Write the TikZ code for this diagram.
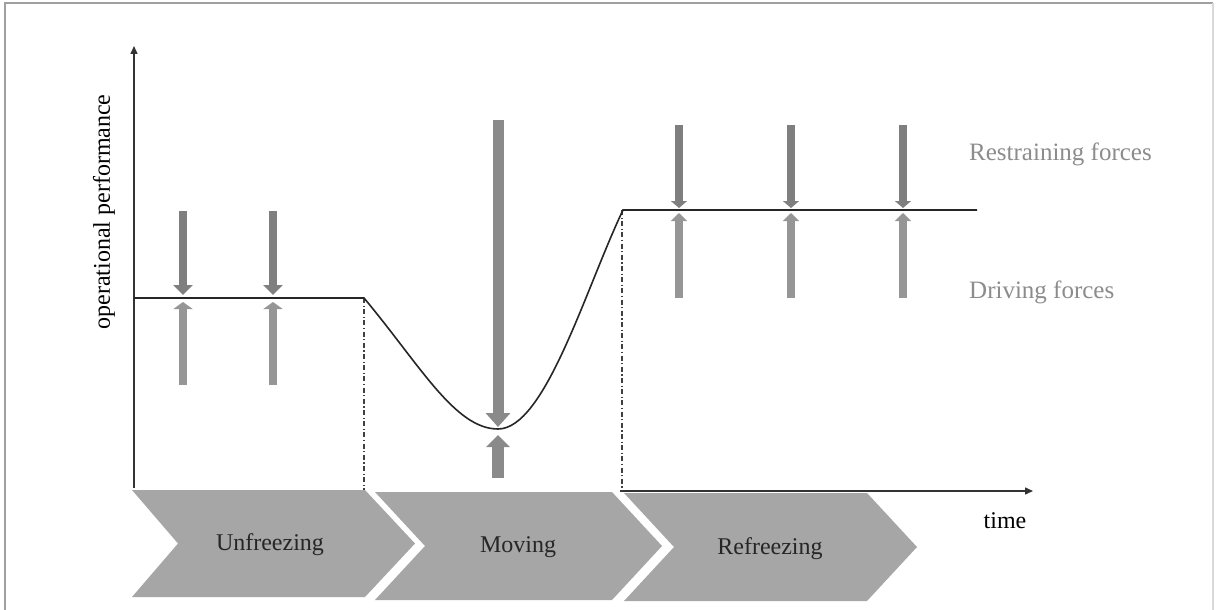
\documentclass[tikz,border=0pt]{standalone}
\usepackage{fontspec}
\setmainfont{Liberation Serif}
\usetikzlibrary{arrows.meta}
\definecolor{chev}{HTML}{A6A6A6}
\definecolor{darkf}{HTML}{7F7F7F}
\definecolor{lightf}{HTML}{969696}
\definecolor{midf}{HTML}{8A8A8A}
\definecolor{lbl}{HTML}{8C8C8C}
\definecolor{frame}{HTML}{A0A0A0}
\begin{document}
\begin{tikzpicture}[x=1pt,y=-1pt,
  chevron/.style={fill=chev,draw=none},
  phase/.style={font=\fontsize{24}{28}\selectfont,text=black!85,inner sep=0pt},
  forcelbl/.style={font=\fontsize{25}{30}\selectfont,text=lbl,anchor=west,inner sep=0pt},
  curveline/.style={line width=1.6pt,black!85},
  axisline/.style={line width=1.5pt,black!80,-{Triangle[width=7pt,length=8pt]}},
  guide/.style={line width=1.2pt,black!75,dash pattern=on 5pt off 2.5pt on 1.2pt off 2.5pt},
  downsmall/.style={darkf,line width=8pt,-{Triangle[width=19pt,length=10pt]}},
  upsmall/.style={lightf,line width=8pt,-{Triangle[width=19pt,length=7pt]}},
  downr/.style={darkf,line width=8pt,-{Triangle[width=16pt,length=7pt]}},
  upr/.style={lightf,line width=8pt,-{Triangle[width=16pt,length=8pt]}}
]
\useasboundingbox (0,0) rectangle (1216,610);
\fill[white] (0,0) rectangle (1216,610);
% frame
\draw[frame,line width=2pt] (4.5,610) -- (4.5,3.5) -- (1213,3.5);
\draw[black!15,line width=1.2pt] (1213,3.5) -- (1213,610);

% chevrons
\fill[chevron] (132,490) -- (365,490) -- (415,543.5) -- (365,597) -- (132,597) -- (178,543.5) -- cycle;
\fill[chevron] (375,492) -- (612,492) -- (662,546) -- (612,600) -- (375,600) -- (425,546) -- cycle;
\fill[chevron] (624,493) -- (867,493) -- (917,547) -- (867,601) -- (624,601) -- (674,547) -- cycle;
\node[phase] (unf) at (270,545) {Unfreezing};
\node[phase] (mov) at (518,547) {Moving};
\node[phase] (ref) at (770,549) {Refreezing};

% axes
\coordinate (o) at (134,488);
\coordinate (ytop) at (134,46);
\coordinate (xs) at (620,491);
\coordinate (xe) at (1033,491);
\draw[axisline] (o) -- (ytop);
\draw[axisline] (xs) -- (xe);
\node[font=\fontsize{24}{28}\selectfont,inner sep=0pt] (time) at (1005,521) {time};
\node[font=\fontsize{24}{28}\selectfont,rotate=90,inner sep=0pt] (yl) at (104,212) {operational performance};

% guides
\coordinate (g1t) at (364,298);
\coordinate (g1b) at (364,490);
\coordinate (g2t) at (622,210);
\coordinate (g2b) at (622,491);
\draw[guide] (g1t) -- (g1b);
\draw[guide] (g2t) -- (g2b);

% performance curve
\coordinate (p0) at (134,298);
\coordinate (p3) at (623,210);
\coordinate (p4) at (977,210);
\draw[curveline] (p0) -- (g1t) .. controls (420,365) and (455,429) .. (498,429)
   .. controls (545,429) and (585,290) .. (p3) -- (p4);

% forces level 1
\foreach \x in {183,273}{
  \draw[downsmall] (\x,211) -- (\x,295);
  \draw[upsmall] (\x,385) -- (\x,302);
}
% big moving arrows
\draw[midf,line width=11pt,-{Triangle[width=24pt,length=14pt]}] (498,120) -- (498,427);
\draw[midf,line width=12pt,-{Triangle[width=23pt,length=12pt]}] (498,478) -- (498,435);
% forces level 2
\foreach \x in {679,791,903}{
  \draw[downr] (\x,125) -- (\x,208);
  \draw[upr] (\x,298) -- (\x,213);
}

\node[forcelbl] (rf) at (969,154) {Restraining forces};
\node[forcelbl] (df) at (969,292) {Driving forces};
\end{tikzpicture}
\end{document}
